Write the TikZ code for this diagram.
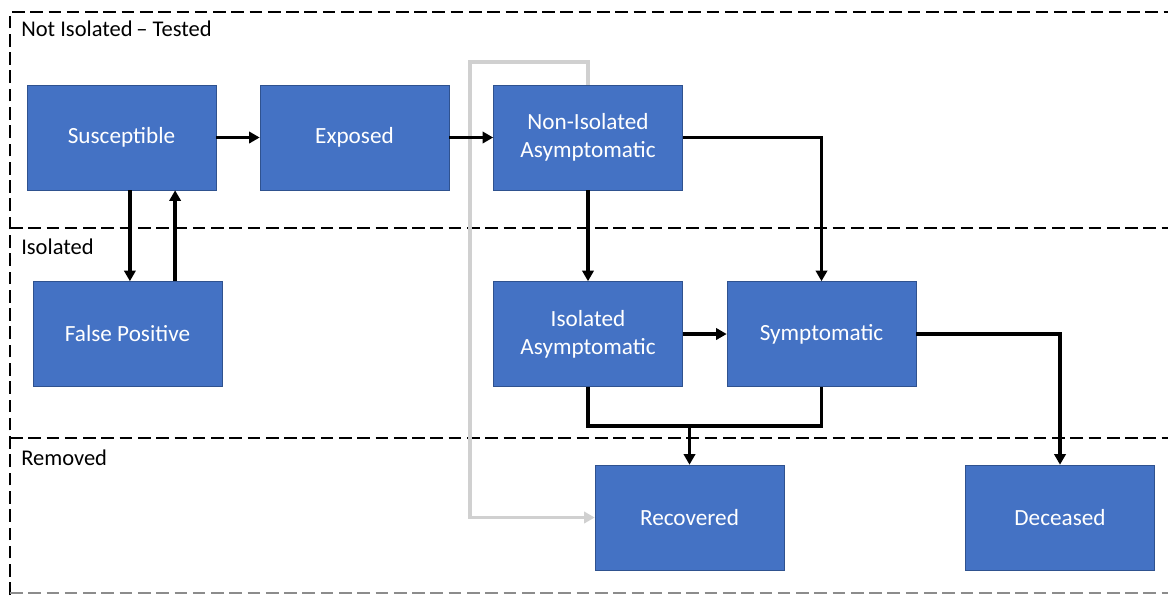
\documentclass[tikz,border=0pt]{standalone}
\usepackage{fontspec}
\setmainfont{Carlito}
\usetikzlibrary{arrows.meta, positioning, calc}
\definecolor{stateblue}{RGB}{68, 114, 196}
\definecolor{stateedge}{RGB}{47, 82, 143}
\definecolor{backgray}{RGB}{208, 208, 208}
\tikzstyle{state} = [draw=stateedge, line width=0.4pt, fill=stateblue, text=white, align=center, minimum width=4.725cm, minimum height=2.625cm, font=\fontsize{16.5}{20}\selectfont]
\tikzstyle{arrow} = [line width=2.6pt, -{Triangle[length=7.5pt, width=8pt]}, black]
\tikzstyle{link} = [line width=2.6pt, black]
\tikzstyle{backarrow} = [line width=2.6pt, -{Triangle[length=7.5pt, width=8pt]}, backgray]
\tikzstyle{zone} = [line width=2.1pt, dash pattern=on 9pt off 4pt]
\tikzstyle{zonelabel} = [anchor=west, inner sep=0pt, font=\fontsize{16}{19}\selectfont]

\begin{document}
\begin{tikzpicture}[x=0.025cm, y=-0.025cm]
\useasboundingbox (0,0) rectangle (1168,595);

% Zones
\draw[zone] (10,595) -- (10,12) -- (1168,12);
\draw[zone] (10,228) -- (1168,228);
\draw[zone] (10,438) -- (1168,438);
\draw[zone, black!45] (10,593) -- (1168,593);
\node[zonelabel] (ztested) at (21,29) {Not Isolated\,-- Tested};
\node[zonelabel] (zisolated) at (21,247) {Isolated};
\node[zonelabel] (zremoved) at (21,458) {Removed};

% States
\node[state] (sus) at (121.5,137.5) {Susceptible};
\node[state] (exp) at (354.5,137.5) {Exposed};
\node[state] (nia) at (588,137.5) {Non-Isolated\\Asymptomatic};
\node[state] (fp) at (127.5,334) {False Positive};
\node[state] (ia) at (588,334) {Isolated\\Asymptomatic};
\node[state] (sym) at (821.5,334) {Symptomatic};
\node[state] (rec) at (689.5,517.5) {Recovered};
\node[state] (dec) at (1060,517.5) {Deceased};

% Transitions
\coordinate (down) at ([xshift=0.21cm]sus.south);
\coordinate (up) at ([xshift=1.34cm]sus.south);
\coordinate (loop) at (470,517.5);
\coordinate (merge) at (689.5,426);
\draw[backarrow] (nia.north) -- ++(0,-23) -| (loop) -- (rec.west);
\draw[arrow] (sus) -- (exp);
\draw[arrow] (exp) -- (nia);
\draw[arrow] (down) -- (down |- fp.north);
\draw[arrow] (up |- fp.north) -- (up);
\draw[arrow] (nia) -- (ia);
\draw[arrow] (nia.east) -| (sym.north);
\draw[arrow] (ia) -- (sym);
\draw[arrow] (sym.east) -| (dec.north);
\draw[link] (ia.south) -- ++(0,39) -| (sym.south);
\draw[arrow] (merge) -- (rec.north);
\end{tikzpicture}
\end{document}
